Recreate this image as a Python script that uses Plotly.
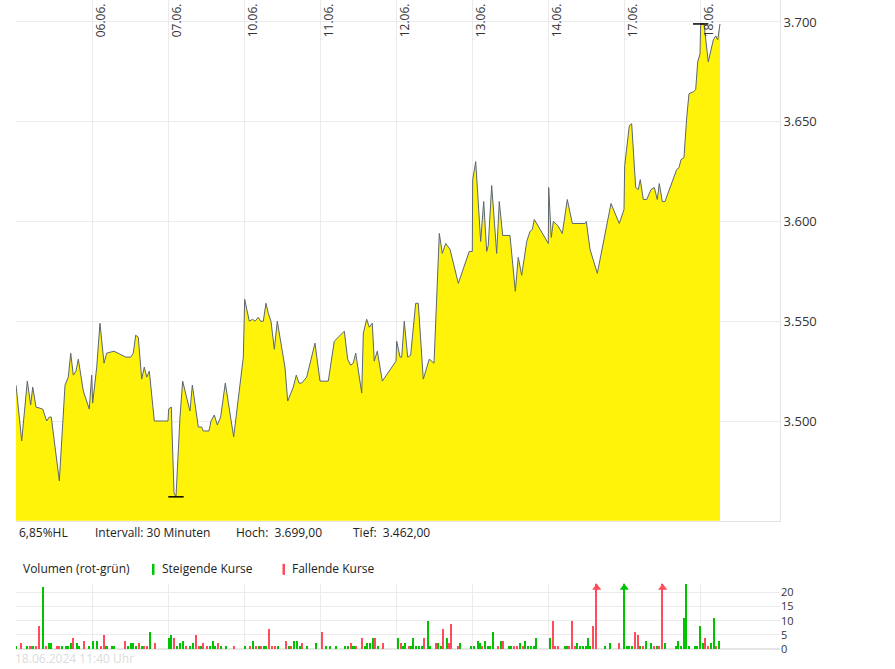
import plotly.graph_objects as go

# ---------------- data ----------------
# time in trading-day units (0 = start of 05.06.), price in points
t_price = [0.000, 0.075, 0.149, 0.193, 0.220, 0.263, 0.351, 0.404, 0.438, 0.464, 0.570, 0.645, 0.688, 0.720,
           0.754, 0.789, 0.820, 0.886, 0.964, 0.996, 1.009, 1.062, 1.105, 1.158, 1.193, 1.289, 1.447, 1.509,
           1.543, 1.575, 1.609, 1.654, 1.688, 1.720, 1.754, 1.820, 2.000, 2.009, 2.043, 2.079, 2.105, 2.158,
           2.193, 2.289, 2.320, 2.399, 2.443, 2.464, 2.539, 2.566, 2.609, 2.649, 2.693, 2.754, 2.864, 2.991,
           3.009, 3.070, 3.114, 3.145, 3.188, 3.220, 3.254, 3.289, 3.320, 3.355, 3.399, 3.438, 3.539, 3.575,
           3.649, 3.688, 3.724, 3.759, 3.825, 3.934, 4.000, 4.109, 4.188, 4.320, 4.364, 4.404, 4.438, 4.470,
           4.549, 4.570, 4.614, 4.649, 4.688, 4.714, 4.754, 4.820, 5.000, 5.009, 5.053, 5.075, 5.109, 5.154,
           5.193, 5.259, 5.293, 5.359, 5.438, 5.500, 5.570, 5.609, 5.654, 5.711, 5.820, 5.964, 6.004, 6.009,
           6.049, 6.114, 6.154, 6.193, 6.214, 6.259, 6.325, 6.359, 6.404, 6.500, 6.570, 6.609, 6.654, 6.720,
           6.763, 6.793, 6.820, 7.004, 7.009, 7.043, 7.070, 7.128, 7.188, 7.254, 7.320, 7.487, 7.504, 7.553,
           7.649, 7.829, 7.938, 8.000, 8.009, 8.070, 8.101, 8.154, 8.188, 8.214, 8.254, 8.299, 8.355, 8.399,
           8.438, 8.464, 8.504, 8.539, 8.693, 8.724, 8.750, 8.789, 8.825, 8.855, 8.912, 8.943, 8.970, 9.000,
           9.009, 9.053, 9.109, 9.175, 9.207, 9.233, 9.263]
price = [3518, 3490, 3520, 3508, 3517, 3507, 3506, 3500, 3502, 3502, 3470, 3518, 3522, 3534,
         3523, 3525, 3531, 3515, 3506, 3523, 3509, 3527, 3549, 3529, 3534, 3535, 3532, 3532,
         3534, 3543, 3542, 3521, 3527, 3522, 3525, 3500, 3500, 3506, 3507, 3464, 3462, 3502,
         3520, 3505, 3518, 3497, 3497, 3495, 3495, 3500, 3503, 3498, 3502, 3519, 3492, 3532,
         3561, 3550, 3551, 3550, 3552, 3550, 3550, 3559, 3554, 3550, 3536, 3550, 3527, 3510,
         3517, 3523, 3519, 3519, 3522, 3539, 3520, 3520, 3540, 3545, 3531, 3528, 3529, 3534,
         3514, 3544, 3551, 3547, 3549, 3530, 3535, 3520, 3530, 3540, 3532, 3532, 3550, 3532,
         3533, 3559, 3559, 3521, 3531, 3529, 3594, 3584, 3589, 3586, 3569, 3585, 3585, 3621,
         3630, 3590, 3610, 3585, 3588, 3618, 3584, 3610, 3593, 3593, 3565, 3582, 3573, 3590,
         3595, 3596, 3601, 3589, 3617, 3592, 3600, 3598, 3594, 3611, 3599, 3599, 3600, 3586,
         3574, 3609, 3599, 3606, 3628, 3648, 3649, 3617, 3616, 3621, 3611, 3611, 3616, 3617,
         3611, 3619, 3610, 3610, 3626, 3627, 3631, 3632, 3652, 3664, 3665, 3666, 3680, 3684,
         3699, 3699, 3680, 3691, 3693, 3691, 3699]

t_vol = [0.000, 0.073, 0.151, 0.194, 0.224, 0.261, 0.303, 0.358, 0.400, 0.443, 0.467, 0.546, 0.570, 0.612,
         0.655, 0.691, 0.721, 0.758, 0.800, 0.831, 0.903, 0.964, 1.013, 1.073, 1.116, 1.158, 1.194, 1.261,
         1.298, 1.443, 1.473, 1.510, 1.546, 1.576, 1.619, 1.655, 1.692, 1.722, 1.764, 1.831, 2.013, 2.049,
         2.080, 2.116, 2.159, 2.201, 2.237, 2.298, 2.334, 2.371, 2.407, 2.437, 2.468, 2.510, 2.553, 2.589,
         2.625, 2.662, 2.698, 2.771, 2.874, 3.019, 3.080, 3.123, 3.165, 3.195, 3.232, 3.268, 3.298, 3.335,
         3.377, 3.414, 3.450, 3.553, 3.589, 3.626, 3.662, 3.705, 3.735, 3.771, 3.838, 3.953, 4.026, 4.087,
         4.129, 4.208, 4.329, 4.366, 4.408, 4.444, 4.481, 4.560, 4.596, 4.626, 4.663, 4.705, 4.729, 4.772,
         4.832, 5.027, 5.063, 5.093, 5.124, 5.172, 5.202, 5.233, 5.269, 5.306, 5.342, 5.378, 5.421, 5.457,
         5.524, 5.554, 5.591, 5.627, 5.669, 5.706, 5.730, 5.815, 5.845, 5.991, 6.033, 6.076, 6.106, 6.136,
         6.173, 6.215, 6.245, 6.276, 6.342, 6.385, 6.415, 6.488, 6.512, 6.555, 6.597, 6.633, 6.670, 6.706,
         6.743, 6.779, 6.821, 6.846, 7.034, 7.070, 7.100, 7.131, 7.222, 7.252, 7.282, 7.318, 7.355, 7.391,
         7.428, 7.464, 7.501, 7.531, 7.561, 7.597, 7.641, 7.754, 7.820, 7.938, 8.004, 8.049, 8.075, 8.109,
         8.149, 8.188, 8.220, 8.254, 8.293, 8.359, 8.399, 8.438, 8.464, 8.509, 8.549, 8.688, 8.714, 8.754,
         8.793, 8.820, 8.859, 8.938, 8.964, 9.004, 9.043, 9.070, 9.109, 9.149, 9.188, 9.214, 9.254]
vol = [1, 2, 1, 1, 1, 1, 8, 22, 1, 2, 2, 1, 1, 1,
       1, 1, 2, 4, 2, 1, 3, 1, 3, 3, 1, 5, 1, 1,
       1, 3, 1, 2, 2, 1, 2, 1, 1, 1, 6, 2, 4, 5,
       4, 1, 2, 3, 1, 1, 2, 5, 1, 1, 2, 1, 1, 3,
       1, 2, 1, 1, 1, 1, 1, 3, 1, 1, 1, 1, 1, 7,
       1, 1, 1, 3, 1, 1, 3, 3, 1, 2, 1, 2, 6, 1,
       1, 1, 1, 1, 2, 1, 1, 4, 1, 2, 2, 4, 4, 1,
       2, 4, 2, 1, 2, 1, 1, 4, 1, 1, 1, 4, 10, 1,
       2, 2, 1, 7, 4, 2, 9, 1, 2, 1, 1, 3, 2, 1,
       3, 1, 1, 6, 1, 3, 3, 1, 1, 1, 1, 2, 1, 3,
       1, 1, 1, 4, 4, 10, 1, 1, 1, 1, 1, 10, 1, 2,
       1, 1, 1, 4, 1, 8, 31, 1, 2, 2, 34, 1, 1, 1,
       6, 5, 1, 1, 3, 2, 1, 1, 1, 29, 2, 1, 3, 1,
       11, 23, 1, 1, 1, 8, 2, 4, 1, 2, 11, 1, 3]
# "g" = rising price (green), "r" = falling price (red)
vol_dir = ["g", "r", "g", "r", "g", "r", "r", "g", "r", "g", "g", "r", "r", "g",
           "g", "g", "g", "r", "g", "g", "r", "g", "g", "g", "r", "r", "g", "g",
           "g", "r", "g", "g", "g", "g", "r", "g", "r", "r", "g", "r", "g", "g",
           "r", "g", "g", "g", "r", "g", "g", "r", "r", "g", "r", "r", "g", "g",
           "g", "r", "g", "g", "r", "g", "r", "g", "r", "g", "r", "g", "g", "r",
           "r", "r", "g", "r", "g", "r", "g", "g", "g", "r", "g", "g", "r", "g",
           "g", "g", "g", "g", "r", "g", "r", "r", "g", "g", "g", "g", "r", "g",
           "r", "g", "r", "g", "g", "r", "g", "g", "g", "g", "g", "r", "g", "g",
           "r", "g", "g", "r", "g", "r", "r", "r", "g", "g", "g", "g", "g", "r",
           "g", "g", "g", "g", "r", "g", "r", "g", "g", "r", "r", "g", "r", "g",
           "g", "g", "g", "g", "g", "r", "r", "r", "g", "g", "r", "r", "r", "g",
           "g", "g", "g", "g", "g", "r", "r", "g", "g", "r", "g", "g", "g", "g",
           "r", "r", "g", "r", "g", "g", "r", "g", "r", "r", "g", "g", "g", "g",
           "g", "g", "g", "g", "g", "g", "g", "r", "r", "g", "g", "r", "g"]

day_ticks = [1, 2, 3, 4, 5, 6, 7, 8, 9]
day_labels = ["06.06.", "07.06.", "10.06.", "11.06.", "12.06.", "13.06.", "14.06.", "17.06.", "18.06."]
price_ticks = [3500, 3550, 3600, 3650, 3700]
vol_ticks = [0, 5, 10, 15, 20]
date_stamp = "18.06.2024 11:40 Uhr"
interval_text = "Intervall: 30 Minuten"

# ---------------- figure ----------------
W, H = 895, 669          # target picture size (layout fractions are computed from it)
H_LAYOUT = 677           # drawn height (the page is photographed at 669)
X_RANGE = [0, 764 / 76]
P_RANGE = [3450, 3711]
V_TOP = 23

GREEN = "#00c400"
RED = "#ff4b5c"
GRID = "#ebebeb"
FONT = "Open Sans"

hi, lo = max(price), min(price)
hi_t = t_price[price.index(hi)]
lo_t = t_price[price.index(lo)]


def de(v):
    s = f"{v:,.2f}"
    return s.replace(",", "X").replace(".", ",").replace("X", ".")


hl_pct = (hi - lo) / lo * 100

fig = go.Figure()

fig.add_trace(go.Scatter(
    x=t_price, y=price, mode="lines", fill="tozeroy",
    fillcolor="rgba(255,242,0,0.96)",
    line=dict(color="#5c6670", width=1),
    xaxis="x", yaxis="y", hoverinfo="skip", showlegend=False))

fig.add_trace(go.Scatter(
    x=[lo_t, hi_t], y=[lo, hi], mode="markers",
    marker=dict(symbol="line-ew", size=11, line=dict(color="black", width=1.5)),
    xaxis="x3", yaxis="y3", hoverinfo="skip", showlegend=False, cliponaxis=False))

colors = [GREEN if d == "g" else RED for d in vol_dir]
fig.add_trace(go.Bar(
    x=t_vol, y=vol, marker=dict(color=colors, line=dict(width=0)),
    width=0.02, xaxis="x2", yaxis="y2", hoverinfo="skip", showlegend=False))

ov_t = [t for t, v in zip(t_vol, vol) if v > V_TOP]
ov_c = [c for c, v in zip(colors, vol) if v > V_TOP]
fig.add_trace(go.Scatter(
    x=ov_t, y=[V_TOP - 1.4] * len(ov_t), mode="markers",
    marker=dict(symbol="triangle-up", size=8, color=ov_c),
    xaxis="x2", yaxis="y2", hoverinfo="skip", showlegend=False, cliponaxis=False))

xd = [16 / W, 780 / W]
yd_main = [1 - 520 / H, 1]
fig.update_layout(
    width=W, height=H_LAYOUT, autosize=False, margin=dict(l=0, r=0, t=0, b=0),
    paper_bgcolor="white", plot_bgcolor="white",
    separators=",.",
    font=dict(family=FONT, size=13, color="#333"),
    xaxis=dict(domain=xd, range=X_RANGE, anchor="y", tickvals=day_ticks, showticklabels=False,
               showgrid=True, gridcolor=GRID, zeroline=False, showline=True, linecolor="#e3e3e3",
               ticks=""),
    xaxis3=dict(overlaying="x", matches="x", anchor="y3", side="top", tickvals=day_ticks,
                ticktext=day_labels, tickangle=-90, ticklabelposition="inside", ticklabelshift=9,
                ticklabelstandoff=-6,
                showgrid=False, zeroline=False, showline=False, ticks="",
                tickfont=dict(size=12, color="#333")),
    yaxis=dict(domain=yd_main, range=P_RANGE, side="right", anchor="x",
               tickvals=price_ticks, tickformat=",d", showgrid=True, gridcolor=GRID,
               zeroline=False, showline=True, linecolor="#e3e3e3", ticks="",
               ticklabeloverflow="allow",
               tickfont=dict(size=13, color="#333")),
    yaxis3=dict(overlaying="y", matches="y", anchor="x3", side="left", showticklabels=False,
                showgrid=False, zeroline=False, showline=False, ticks=""),
    xaxis2=dict(domain=xd, matches="x", anchor="y2", tickvals=day_ticks, showticklabels=False,
                showgrid=True, gridcolor=GRID, zeroline=False, ticks=""),
    yaxis2=dict(domain=[1 - 648 / H, 1 - 583 / H], range=[0, V_TOP], side="right", anchor="x2",
                tickvals=vol_ticks, showgrid=True, gridcolor=GRID, zeroline=True,
                zerolinecolor="#e6e6e6", zerolinewidth=2, ticks="",
                tickfont=dict(size=11, color="#333")),
    bargap=0,
)

ann = [
    (17, 532, f"{hl_pct:.2f}".replace(".", ",") + "%HL"),
    (93, 532, interval_text),
    (234, 532, "Hoch:  " + de(hi)),
    (351, 532, "Tief:  " + de(lo)),
    (21, 568, "Volumen (rot-grün)"),
    (160, 568, "Steigende Kurse"),
    (290, 568, "Fallende Kurse"),
]
for x, y, txt in ann:
    fig.add_annotation(x=x / W, y=1 - y / H, xref="paper", yref="paper", text=txt,
                       showarrow=False, xanchor="left", yanchor="middle",
                       font=dict(size=12, color="#222", family=FONT))
fig.add_annotation(x=13 / W, y=1 - 658 / H, xref="paper", yref="paper", text=date_stamp,
                   showarrow=False, xanchor="left", yanchor="middle",
                   font=dict(size=12, color="#dcdcdc", family=FONT))

for x0, col in [(152, GREEN), (282.5, RED)]:
    fig.add_shape(type="rect", xref="paper", yref="paper",
                  x0=x0 / W, x1=(x0 + 2.5) / W, y0=1 - 574 / H, y1=1 - 563 / H,
                  fillcolor=col, line=dict(width=0))

fig.write_html("out.html",
               config={"responsive": False, "displayModeBar": False},
               post_script="document.body.style.margin='0px';")
